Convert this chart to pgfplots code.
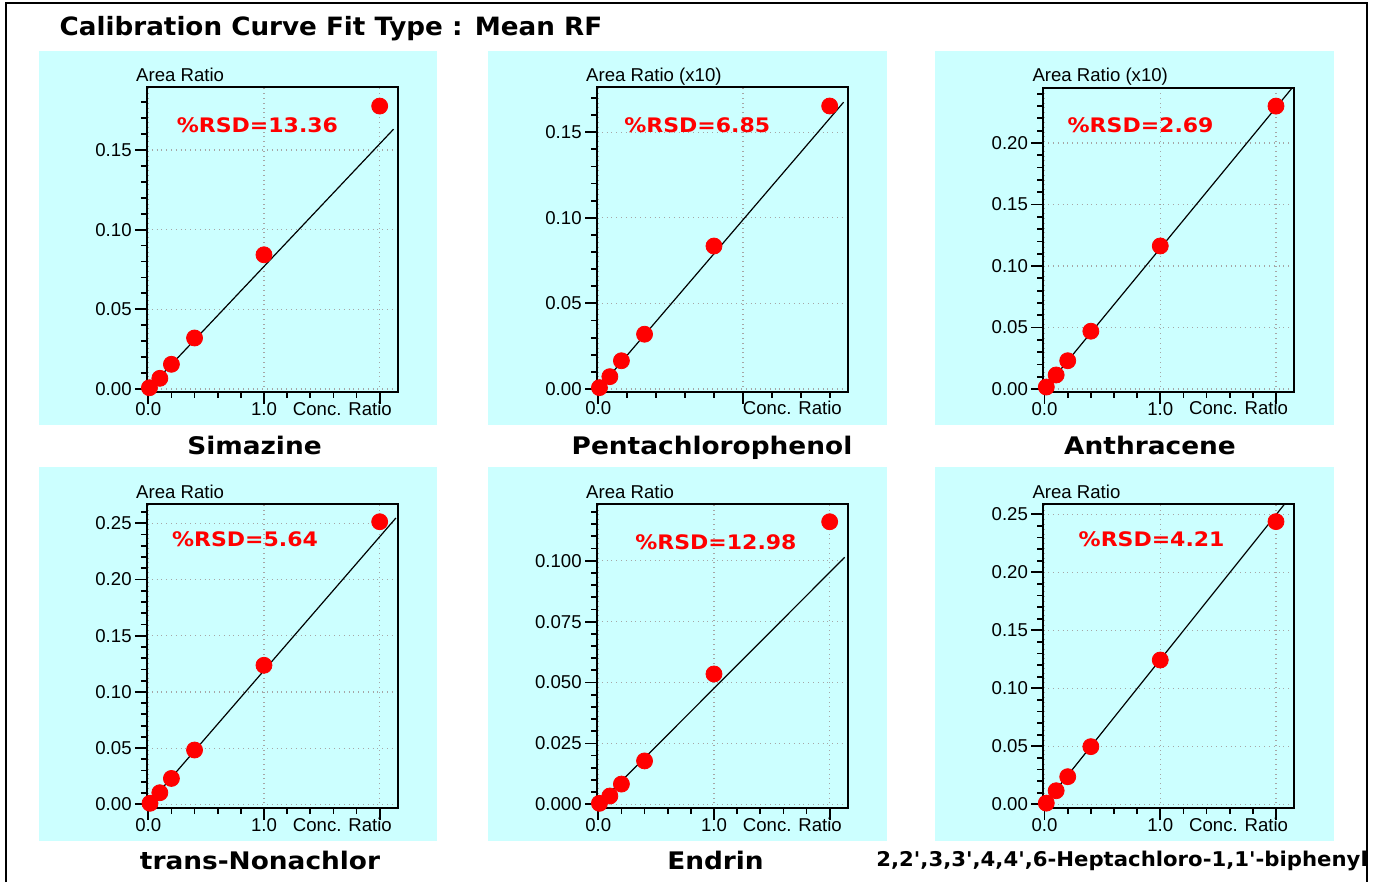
\documentclass[border=0pt]{standalone}
\usepackage{fontspec}
\setmainfont{Liberation Sans}
\newfontfamily\vfam{DejaVu Sans}
\usepackage{graphicx}
\usepackage{pgfplots}
\pgfplotsset{compat=1.18}

\definecolor{panelcyan}{RGB}{204,255,255}
\definecolor{dotred}{RGB}{255,0,0}

\newcommand\rsd[1]{\scalebox{1.1}[1]{\vfam\bfseries\fontsize{10}{12}\selectfont\%RSD=#1}}
\newcommand\capt[1]{\scalebox{1.09}[1]{\vfam\bfseries\fontsize{12.1}{14}\selectfont #1}}

\pgfplotsset{
  calib/.style={
    scale only axis, width=125.25pt, height=152pt, anchor=south west,
    xmin=-0.011, xmax=2.154,
    axis line style={line width=1pt},
    tick align=outside, xtick pos=bottom, ytick pos=left,
    major tick length=6pt, minor tick length=3pt,
    every tick/.style={black, line width=0.9pt},
    grid=major,
    major grid style={dotted, black!35, line width=0.6pt},
    tick label style={font=\fontsize{9.3}{11}\selectfont},
    /pgf/number format/assume math mode=true,
    yticklabel style={/pgf/number format/fixed, /pgf/number format/fixed zerofill,
      /pgf/number format/precision=2, inner sep=1.5pt},
    xtick={0,1,2}, xticklabels={0.0,1.0,{}},
    minor xtick={0.2,0.4,0.6,0.8,1.2,1.4,1.6,1.8},
    xticklabel style={anchor=base, yshift=-5.75pt},
    xlabel={Conc. Ratio},
    every axis x label/.style={at={(rel axis cs:1,0)}, anchor=base east,
      xshift=-2.65pt, yshift=-11.75pt, inner sep=0pt, font=\fontsize{9.3}{11}\selectfont},
    every axis y label/.style={at={(rel axis cs:0,1)}, anchor=base west,
      xshift=-5.6pt, yshift=2.85pt, inner sep=0pt, font=\fontsize{9.3}{11}\selectfont},
    clip mode=individual,
  },
  fitline/.style={black, line width=0.6pt, no markers},
  pts/.style={only marks, mark=*, mark size=4pt, color=dotred},
}

\begin{document}
\begin{tikzpicture}
\begin{scope}[x=0.5pt, y=-0.5pt]
  \path[use as bounding box] (0,0) rectangle (1389,882);
  \fill[panelcyan] (39,51) rectangle (437,425);
  \fill[panelcyan] (487.5,51) rectangle (886.5,425);
  \fill[panelcyan] (935,51) rectangle (1334,425);
  \fill[panelcyan] (39,467) rectangle (437,841);
  \fill[panelcyan] (487.5,467) rectangle (886.5,841);
  \fill[panelcyan] (935,467) rectangle (1334,841);
\end{scope}

% Simazine
\begin{axis}[calib, at={(73.5pt,-195.75pt)},
  ymin=-0.00157, ymax=0.18915,
  ytick={0,0.05,0.10,0.15}, minor ytick={0,0.01,...,0.18},
  ylabel={Area Ratio}]
\addplot[fitline] coordinates {(0,0) (2.12,0.163)};
\addplot[pts] coordinates {(0.01,0.0008) (0.1,0.0067) (0.2,0.0155) (0.4,0.032) (1.0,0.0842) (2.0,0.1775)};
\end{axis}

% Pentachlorophenol
\begin{axis}[calib, at={(298.5pt,-195.75pt)},
  ymin=-0.00146, ymax=0.17611,
  ytick={0,0.05,0.10,0.15}, minor ytick={0,0.01,...,0.17},
  xtick={0,1.25}, xticklabels={0.0,{}},
  minor xtick={0.25,0.5,0.75,1,1.5,1.75,2},
  ylabel={Area Ratio (x10)}]
\addplot[fitline] coordinates {(0,0) (2.12,0.1675)};
\addplot[pts] coordinates {(0.01,0.0008) (0.1,0.0072) (0.2,0.0165) (0.4,0.032) (1.0,0.0835) (2.0,0.1653)};
\end{axis}

% Anthracene
\begin{axis}[calib, at={(521.65pt,-195.75pt)},
  ymin=-0.00203, ymax=0.24512,
  ytick={0,0.05,0.10,0.15,0.20}, minor ytick={0,0.01,...,0.24},
  ylabel={Area Ratio (x10)}]
\addplot[fitline] coordinates {(0,0) (2.14,0.2448)};
\addplot[pts] coordinates {(0.015,0.0016) (0.1,0.0114) (0.2,0.023) (0.4,0.047) (1.0,0.1163) (2.0,0.230)};
\end{axis}

% trans-Nonachlor
\begin{axis}[calib, at={(73.5pt,-404pt)},
  ymin=-0.00329, ymax=0.26717,
  ytick={0,0.05,0.10,0.15,0.20,0.25}, minor ytick={0,0.01,...,0.26},
  ylabel={Area Ratio}]
\addplot[fitline] coordinates {(0,0) (2.14,0.2547)};
\addplot[pts] coordinates {(0.015,0.0009) (0.1,0.0103) (0.2,0.023) (0.4,0.0483) (1.0,0.1237) (2.0,0.2514)};
\end{axis}

% Endrin
\begin{axis}[calib, at={(298.5pt,-404pt)},
  ymin=-0.00152, ymax=0.12328,
  ytick={0,0.025,0.05,0.075,0.1}, minor ytick={0,0.005,...,0.12},
  yticklabel style={/pgf/number format/precision=3},
  ylabel={Area Ratio}]
\addplot[fitline] coordinates {(0,0) (2.13,0.1014)};
\addplot[pts] coordinates {(0.01,0.0004) (0.1,0.0034) (0.2,0.0083) (0.4,0.0178) (1.0,0.0535) (2.0,0.116)};
\end{axis}

% Heptachlorobiphenyl
\begin{axis}[calib, at={(521.65pt,-404pt)},
  ymin=-0.00319, ymax=0.25888,
  ytick={0,0.05,0.10,0.15,0.20,0.25}, minor ytick={0,0.01,...,0.25},
  ylabel={Area Ratio}]
\addplot[fitline] coordinates {(0,0) (2.14,0.267)};
\addplot[pts] coordinates {(0.015,0.001) (0.1,0.0117) (0.2,0.0238) (0.4,0.0497) (1.0,0.1244) (2.0,0.2437)};
\end{axis}

\begin{scope}[x=0.5pt, y=-0.5pt]
  \node[anchor=base west, inner sep=0pt] at (59.3,35.7)
    {\scalebox{1.04}[1]{\vfam\bfseries\fontsize{12.6}{15}\selectfont Calibration Curve Fit Type : Mean RF}};
  \node[anchor=base west, inner sep=0pt, text=dotred] at (176.5,132.3) {\rsd{13.36}};
  \node[anchor=base west, inner sep=0pt, text=dotred] at (624,132.3) {\rsd{6.85}};
  \node[anchor=base west, inner sep=0pt, text=dotred] at (1067.3,132.3) {\rsd{2.69}};
  \node[anchor=base west, inner sep=0pt, text=dotred] at (171.7,546) {\rsd{5.64}};
  \node[anchor=base west, inner sep=0pt, text=dotred] at (635,549) {\rsd{12.98}};
  \node[anchor=base west, inner sep=0pt, text=dotred] at (1078.3,546) {\rsd{4.21}};
  \node[anchor=base, inner sep=0pt] at (254.5,454.3) {\capt{Simazine}};
  \node[anchor=base, inner sep=0pt] at (712,454.3) {\capt{Pentachlorophenol}};
  \node[anchor=base, inner sep=0pt] at (1150,454.3) {\capt{Anthracene}};
  \node[anchor=base, inner sep=0pt] at (260,869.3) {\capt{trans-Nonachlor}};
  \node[anchor=base, inner sep=0pt] at (715.5,869.3) {\capt{Endrin}};
  \node[anchor=base west, inner sep=0pt] at (876,866)
    {\scalebox{1.045}[1]{\vfam\bfseries\fontsize{10.15}{12}\selectfont 2,2',3,3',4,4',6-Heptachloro-1,1'-biphenyl}};
  \draw[line width=1pt] (5.5,882) -- (5.5,3) -- (1367,3) -- (1367,882);
\end{scope}
\end{tikzpicture}
\end{document}
